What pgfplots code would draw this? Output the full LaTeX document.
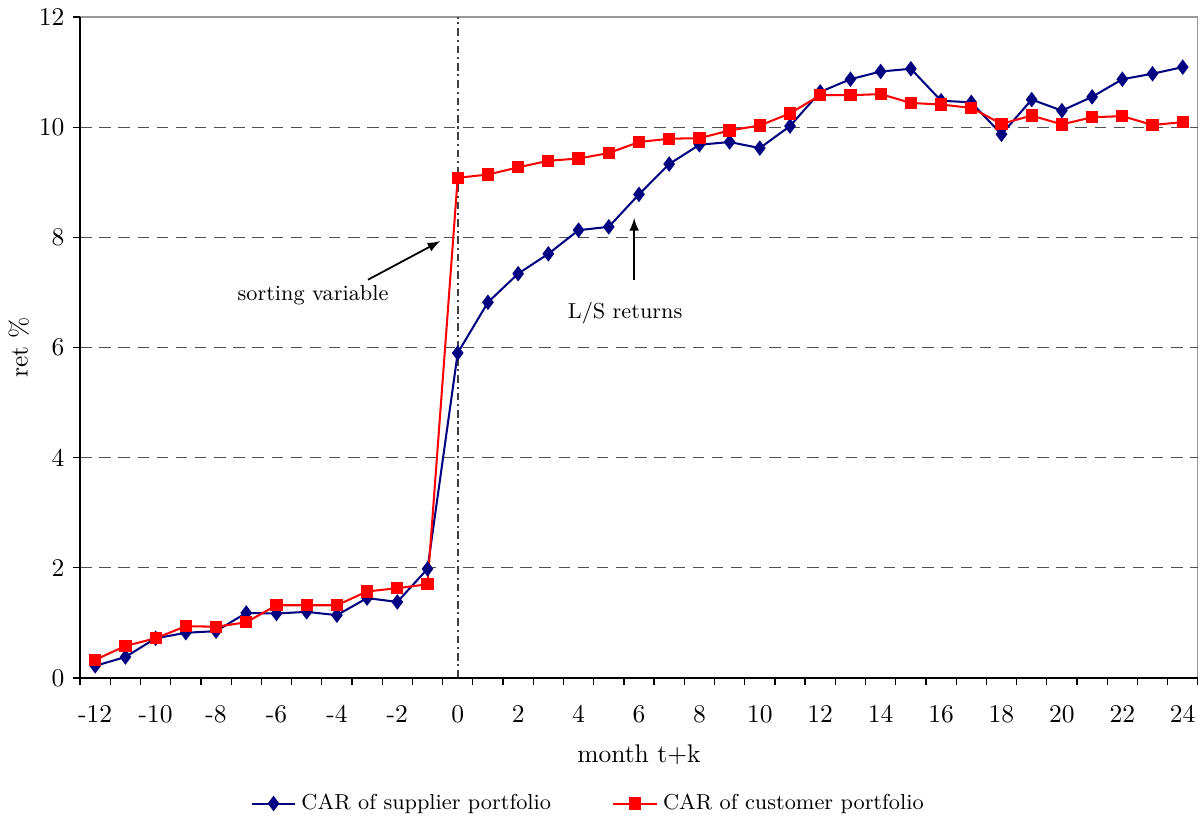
\documentclass[border=0pt]{standalone}
\usepackage{pgfplots}
\pgfplotsset{compat=1.18}
\definecolor{navyb}{RGB}{0,0,128}
\definecolor{gridg}{RGB}{80,80,80}
\begin{document}
\begin{tikzpicture}
\begin{axis}[
  scale only axis,
  width=438pt, height=259pt,
  xmin=-12.5, xmax=24.5,
  ymin=0, ymax=12,
  xtick={-12,-10,...,24},
  xticklabels={-12,-10,-8,-6,-4,-2,0,2,4,6,8,10,12,14,16,18,20,22,24},
  major x tick style={draw=none},
  minor xtick={-12.5,-11.5,...,24.5},
  ytick={0,2,...,12},
  yticklabels={0,2,4,6,8,10,12},
  xtick pos=bottom, ytick pos=left,
  tick align=outside,
  major tick length=2.6pt,
  minor tick length=2.6pt,
  tick style={black, line width=0.5pt},
  x tick label style={yshift=-4.5pt},
  xlabel={month t+k},
  ylabel={ret \%},
  xlabel style={yshift=-2pt},
  ylabel style={yshift=-3pt},
  axis line style={draw=gray!80},
  legend style={draw=none, at={(0.456,-0.19)}, anchor=center, legend columns=2,
    /tikz/every even column/.append style={column sep=22pt}, font=\fontsize{8.5}{10}\selectfont},
  legend cell align=left,
  clip=false,
]
% grid lines
\foreach \yy in {2,4,6,8,10} {
  \edef\tmp{\noexpand\draw[gridg, dashed, dash pattern=on 4.5pt off 3pt, line width=0.5pt] (axis cs:-12.5,\yy) -- (axis cs:24.5,\yy);}
  \tmp
}
\draw[black!75, dash pattern=on 3pt off 1.5pt on 0.8pt off 1.5pt, line width=0.9pt] (axis cs:0,0) -- (axis cs:0,12);
\draw[black, line width=0.6pt] (rel axis cs:0,1) -- (rel axis cs:0,0) -- (rel axis cs:1,0);

\addplot[navyb, line width=0.8pt, mark=diamond*, mark size=2.4pt, mark options={fill=navyb, draw=navyb}] coordinates {
(-12,0.22) (-11,0.38) (-10,0.72) (-9,0.82) (-8,0.85) (-7,1.18) (-6,1.17) (-5,1.20) (-4,1.14) (-3,1.45) (-2,1.38) (-1,1.98)
(0,5.90) (1,6.82) (2,7.34) (3,7.70) (4,8.13) (5,8.19) (6,8.78) (7,9.33) (8,9.68) (9,9.73) (10,9.62) (11,10.02)
(12,10.64) (13,10.87) (14,11.01) (15,11.06) (16,10.48) (17,10.45) (18,9.87) (19,10.50) (20,10.30) (21,10.55) (22,10.87) (23,10.97) (24,11.09)
};
\addlegendentry{CAR of supplier portfolio}
\addplot[red, line width=0.8pt, mark=square*, mark size=2.0pt, mark options={fill=red, draw=red}] coordinates {
(-12,0.33) (-11,0.58) (-10,0.72) (-9,0.94) (-8,0.93) (-7,1.01) (-6,1.32) (-5,1.32) (-4,1.32) (-3,1.57) (-2,1.63) (-1,1.70)
(0,9.08) (1,9.14) (2,9.27) (3,9.39) (4,9.43) (5,9.53) (6,9.73) (7,9.79) (8,9.80) (9,9.94) (10,10.03) (11,10.25)
(12,10.58) (13,10.58) (14,10.60) (15,10.44) (16,10.41) (17,10.35) (18,10.06) (19,10.21) (20,10.05) (21,10.18) (22,10.20) (23,10.04) (24,10.09)
};
\addlegendentry{CAR of customer portfolio}

\node[font=\fontsize{8.5}{10}\selectfont] at (axis cs:-4.79,6.94) {sorting variable};
\draw[-latex, line width=0.7pt] (axis cs:-2.97,7.23) -- (axis cs:-0.58,7.93);
\node[font=\fontsize{8.5}{10}\selectfont] at (axis cs:5.54,6.63) {L/S returns};
\draw[-latex, line width=0.7pt] (axis cs:5.84,7.23) -- (axis cs:5.84,8.35);
\end{axis}
\end{tikzpicture}
\end{document}
